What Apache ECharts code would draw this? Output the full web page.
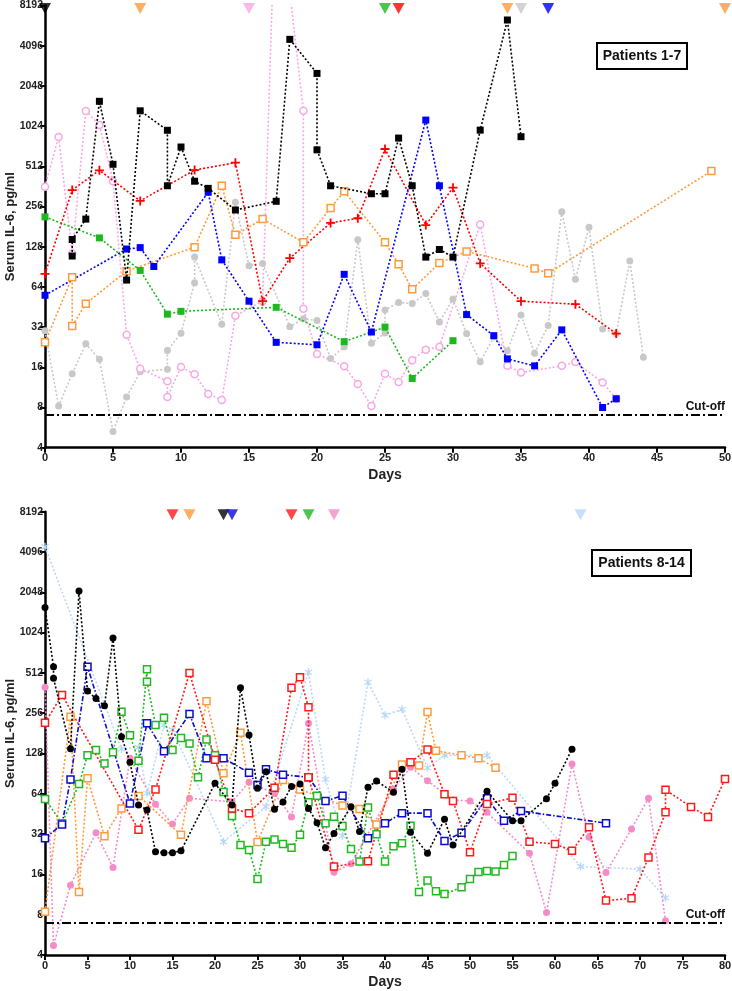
<!DOCTYPE html>
<html><head><meta charset="utf-8">
<script src="https://cdn.jsdelivr.net/npm/echarts@6/dist/echarts.min.js"></script>
<style>html,body{margin:0;padding:0;background:#fff}#c{width:732px;height:991px}</style>
</head><body><div id="c"></div>
<script>
// ---------- Panel A: Patients 1-7 ----------
const yTicks = [4,8,16,32,64,128,256,512,1024,2048,4096,8192];
const cutoff = 7;
const p1Days = [2,2,3,4,5,6,7,9,9,10,11,12,14,17,18,20,20,21,24,25,26,27,28,29,30,32,34,35];
const p1Vals = [109,145,206,1570,530,72,1333,953,366,714,396,350,241,280,4570,2540,680,366,319,319,833,366,107,122,107,955,6380,853];
const p2Days = [0,2,2,3,6,11,13,14,16,19,21,22,25,26,27,29,31,36,37,49];
const p2Vals = [24.6,75.6,32.6,47.9,84,127,366,157,206,138,249,333,138,94.6,61.4,96.5,118,88,81,472];
const p3Days = [0,1,2,3,4,5,6,7,9,9,10,11,12,13,14,16,17,19,19,20,22,23,24,25,26,27,28,29,32,34,35,38,39,41,42];
const p3Vals = [360,850,114,1330,1045,396,28,15.6,12.6,9.6,16.1,14.2,10.1,9.1,39,50,80000,1333,44,20.1,16.3,12,8.2,14.3,12.4,18.1,21.7,22.8,188,16.4,14.6,16.4,17.5,12.3,9.3];
const p4Days = [0,4,7,9,10,17,22,25,27,30];
const p4Vals = [214,149,85,40,42,45,24.9,32,13.2,25.3];
const p5Days = [0,2,4,7,11,14,16,18,21,23,25,28,30,32,35,39,42];
const p5Vals = [80,340,478,282,480,545,50,105,193,209,690,186,354,96,50,47.5,28.6];
const p6Days = [0,1,2,3,4,5,6,7,9,9,10,11,11,13,14,15,16,18,19,20,21,22,23,24,25,25,26,27,28,29,30,31,32,33,34,35,36,37,38,39,40,41,42,43,44];
const p6Vals = [30,8.2,14.3,24,18.4,5.3,9.6,14.8,15.5,21.4,28.8,68.8,107,33.6,275,92,96,32.2,37,35.8,18.6,22.8,144,24.2,28.9,43,49,48,57,35,52,28.6,17.6,27,21.3,39.4,20.4,32.9,234,73,179,31,28.6,100,19];
const p7Days = [0,6,7,8,12,13,15,17,20,22,24,28,29,31,33,34,36,38,41,42];
const p7Vals = [55.4,123,126,91,327,102,50,24.6,23.6,79.5,29.4,1136,366,39.7,27.6,18.5,16.4,30.5,8,9.3];
// event markers (day, colour key)
const eventsADays = [0,7,15,25,26,34,35,37,50];
const eventsAKeys = ['p1','p2','p3','p4','p5','p2','p6','p7','p2'];

// ---------- Panel B: Patients 8-14 ----------
const p8Days = [0,1,1,3,4,5,6,7,8,9,10,11,12,13,14,15,16,20,22,23,24,25,26,27,28,29,30,31,32,33,34,36,37,38,39,41,42,43,45,47,48,52,55,56,59,60,62];
const p8Vals = [1580,570,467,139,2090,375,329,291,935,171,110,52.8,48.5,23.6,23.2,23.2,24,76.6,52.8,397,176,70.3,93.6,49,55.6,72.7,75.7,49.8,38.9,25.3,32.4,51.2,33.4,71.7,79.7,65.8,97.8,33,23,41.4,26.5,67,40.2,40.2,58.9,76.6,138];
const p9Days = [0,2,11,13,17,20,22,24,27,29,30,31,31,34,38,41,43,45,47,48,50,52,55,57,60,62,64,66,69,71,73,73,76,78,80];
const p9Vals = [217,350,34.5,69,512,115,49.8,45.9,71,397,475,284,85,18.3,20.1,89,110,137,63.6,56.5,23.4,53.8,59.7,28,27,24,36,10.2,10.6,21.4,46.5,68.6,51,43,82.6];
const p10Days = [0,3,4,5,7,9,11,16,19,21,23,25,28,30,35,37,39,42,44,45,46,49,51,53];
const p10Vals = [8.4,241,11.8,83.5,30.8,49.8,61.7,31.6,315,91,183,27.9,81,69,52.4,49.3,37.8,106,104,261,134,124,118,100];
const p11Days = [0,2,4,5,6,7,8,9,10,11,12,12,13,14,15,16,17,18,19,20,21,22,23,24,25,26,27,28,29,30,31,32,33,34,35,36,37,38,39,40,41,42,43,44,45,46,47,49,50,51,52,53,54,55];
const p11Vals = [58.5,38.5,75.6,124,136,108,131,263,175,113,545,440,209,237,136,167,152,85,163,124,66,43.7,26.5,24.3,14.8,28,29.2,27,25.3,31.6,55.3,61.9,38.6,43.2,36.8,24.8,20,50.5,31.9,20,26,27.3,37,11.8,14.4,12,11.4,12.8,14.8,16.7,17,16.8,18.8,22];
const p12Days = [0,2,3,5,10,12,14,17,19,21,24,25,26,28,31,33,35,38,40,42,45,47,49,52,54,56,66];
const p12Vals = [29.8,37.8,82,570,54.2,215,133,252,118,118,92,74.5,97.7,89,85,56.5,61.9,29.8,38.6,45.9,45.9,28.4,32.7,59.3,40.2,47.6,38.6];
const p13Days = [0,1,3,6,8,10,13,15,17,22,24,27,29,31,34,36,41,43,45,48,50,52,57,59,62,64,66,69,71,73];
const p13Vals = [400,4.7,13.3,32.7,18,118,53.4,38,59.3,55.8,78,64.4,43,215,16.6,19.2,69.5,101,80,57.6,56.6,46.5,23,8.3,107,30.3,16.5,35,59.3,7.2];
const p14Days = [0,9,11,12,14,15,21,26,31,33,35,38,40,42,45,47,52,63,70,73];
const p14Vals = [4480,138,142,64.5,209,192,28,51.3,517,82,31,436,247,274,100,124,124,18.3,17.5,10.7];
const eventsBDays = [15,17,21,22,29,31,34,63];
const eventsBKeys = ['p9','p10','p8','p12','p9','p11','p13','p14'];

const colors = {
  p1:'#000000', p2:'#FF9A3C', p3:'#F7A8E4', p4:'#1DB81D', p5:'#FF0000', p6:'#C8C8C8', p7:'#0000FF',
  p8:'#000000', p9:'#FF1A1A', p10:'#FF9A3C', p11:'#22B822', p12:'#0A0AD0', p13:'#F48CC8', p14:'#B9D8F7'
};
const PLUS = 'path://M4,0 H6 V4 H10 V6 H6 V10 H4 V6 H0 V4 H4 Z';
const STAR = 'path://M4.3,0 H5.7 V3.3 L8.6,1.6 L9.3,2.8 L6.4,4.5 V5.5 L9.3,7.2 L8.6,8.4 L5.7,6.7 V10 H4.3 V6.7 L1.4,8.4 L0.7,7.2 L3.6,5.5 V4.5 L0.7,2.8 L1.4,1.6 L4.3,3.3 Z';

const L2 = v => Math.log2(v);
function pts(days, vals){ return days.map((d,i)=>[d, L2(vals[i])]); }

function lineSeries(idx, key, days, vals, sym, opts){
  opts = opts || {};
  const c = colors[key];
  return {
    type:'line', xAxisIndex:idx, yAxisIndex:idx, data:pts(days,vals),
    symbol:sym.symbol, symbolSize:sym.size, showAllSymbol:true, clip:true,
    lineStyle:{color:c, width:opts.lw||1.6, type:opts.dash||[2,2]},
    itemStyle: sym.open ? {color:'#ffffff', borderColor:c, borderWidth:1.5} : {color:c, borderWidth:0},
    emphasis:{disabled:true}, animation:false, z: opts.z || 2
  };
}
function eventSeries(idx, days, keys){
  return {
    type:'scatter', xAxisIndex:idx, yAxisIndex:idx, clip:false,
    data: days.map((d,i)=>({value:[d, 13], itemStyle:{color:colors[keys[i]]}})),
    symbol:'triangle', symbolRotate:180, symbolSize:[12,11], symbolOffset:[0,3],
    animation:false, z:5, emphasis:{disabled:true}
  };
}
function cutSeries(idx){
  return {
    type:'line', xAxisIndex:idx, yAxisIndex:idx, data:[], animation:false,
    markLine:{silent:true, symbol:'none', animation:false,
      lineStyle:{color:'#000', width:2, type:[9,3,2,3]},
      label:{show:true, position:'insideEndTop', formatter:'Cut-off', color:'#111', fontWeight:'bold', fontSize:12, fontFamily:'Liberation Sans, Arial', distance:[0,2]},
      data:[{yAxis:L2(cutoff)}]}
  };
}

const font = 'Liberation Sans, Arial, sans-serif';
function xAx(idx, max){
  return {gridIndex:idx, type:'value', min:0, max:max, interval:5,
    name:'Days', nameLocation:'middle', nameGap:20, nameMoveOverlap:false,
    nameTextStyle:{fontWeight:'bold', fontSize:14, color:'#222', fontFamily:font},
    axisLine:{onZero:false, lineStyle:{color:'#000', width:2.5}},
    axisTick:{length:5, lineStyle:{color:'#000', width:2}},
    axisLabel:{fontWeight:'bold', fontSize:11, color:'#222', fontFamily:font, margin:5},
    splitLine:{show:false}};
}
function yAx(idx){
  return {gridIndex:idx, type:'value', min:2, max:13, interval:1,
    name:'Serum IL-6, pg/ml', nameLocation:'middle', nameGap:28, nameRotate:90, nameMoveOverlap:false,
    nameTextStyle:{fontWeight:'bold', fontSize:13, color:'#222', fontFamily:font},
    axisLine:{onZero:false, lineStyle:{color:'#000', width:2.5}},
    axisTick:{length:5, lineStyle:{color:'#000', width:2}},
    axisLabel:{fontWeight:'bold', fontSize:10.5, color:'#222', fontFamily:font, margin:2,
      formatter: v => String(yTicks[Math.round(v)-2])},
    splitLine:{show:false}};
}

const series = [
  cutSeries(0),
  lineSeries(0,'p6',p6Days,p6Vals,{symbol:'circle',size:7},{z:1}),
  lineSeries(0,'p3',p3Days,p3Vals,{symbol:'circle',size:7,open:true},{z:1}),
  lineSeries(0,'p2',p2Days,p2Vals,{symbol:'rect',size:7,open:true}),
  lineSeries(0,'p4',p4Days,p4Vals,{symbol:'rect',size:7}),
  lineSeries(0,'p5',p5Days,p5Vals,{symbol:PLUS,size:9}),
  lineSeries(0,'p7',p7Days,p7Vals,{symbol:'rect',size:7}),
  lineSeries(0,'p1',p1Days,p1Vals,{symbol:'rect',size:7},{z:3}),
  eventSeries(0,eventsADays,eventsAKeys),
  cutSeries(1),
  lineSeries(1,'p14',p14Days,p14Vals,{symbol:STAR,size:8},{z:1}),
  lineSeries(1,'p13',p13Days,p13Vals,{symbol:'circle',size:7},{z:1}),
  lineSeries(1,'p10',p10Days,p10Vals,{symbol:'rect',size:7,open:true}),
  lineSeries(1,'p11',p11Days,p11Vals,{symbol:'rect',size:7,open:true}),
  lineSeries(1,'p12',p12Days,p12Vals,{symbol:'rect',size:7,open:true},{dash:[5,2,1.5,2]}),
  lineSeries(1,'p9',p9Days,p9Vals,{symbol:'rect',size:7,open:true}),
  lineSeries(1,'p8',p8Days,p8Vals,{symbol:'circle',size:7},{z:3}),
  eventSeries(1,eventsBDays,eventsBKeys)
];

const chart = echarts.init(document.getElementById('c'), null, {renderer:'canvas'});
chart.setOption({
  backgroundColor:'#fff',
  animation:false,
  grid:[{left:45, top:5.5, width:680, height:442.2, containLabel:false, outerBoundsMode:'none'},
        {left:45, top:511.7, width:680, height:443.3, containLabel:false, outerBoundsMode:'none'}],
  xAxis:[xAx(0,50), xAx(1,80)],
  yAxis:[yAx(0), yAx(1)],
  series: series,
  graphic:[
    {type:'rect', shape:{x:597,y:43,width:90,height:26}, style:{fill:'#fff', stroke:'#000', lineWidth:2}, z:10},
    {type:'text', x:642, y:56, style:{text:'Patients 1-7', font:'bold 14px '+font, fill:'#111', textAlign:'center', textVerticalAlign:'middle'}, z:11},
    {type:'rect', shape:{x:592,y:550,width:99,height:26}, style:{fill:'#fff', stroke:'#000', lineWidth:2}, z:10},
    {type:'text', x:641.5, y:563, style:{text:'Patients 8-14', font:'bold 14px '+font, fill:'#111', textAlign:'center', textVerticalAlign:'middle'}, z:11}
  ]
});
</script></body></html>
